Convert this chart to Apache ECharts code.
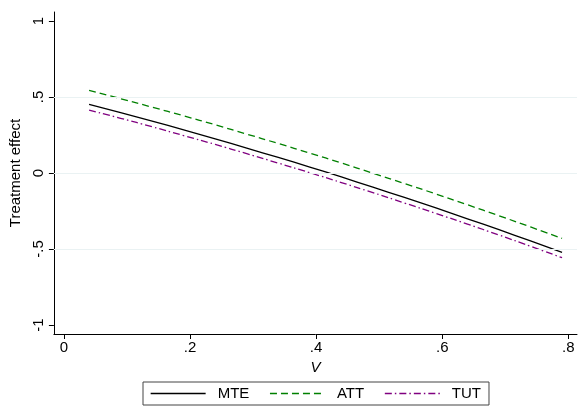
<!DOCTYPE html>
<html>
<head>
<meta charset="utf-8">
<script src="https://cdn.jsdelivr.net/npm/echarts@6/dist/echarts.min.js"></script>
<style>
  html, body { margin: 0; padding: 0; background: #ffffff; }
  #chart { width: 580px; height: 411px; }
</style>
</head>
<body>
<div id="chart"></div>
<script>
// Unobserved resistance V and the three treatment-effect curves
const vValues = [0.04, 0.09, 0.14, 0.19, 0.24, 0.29, 0.34, 0.39, 0.44, 0.49, 0.54, 0.59, 0.64, 0.69, 0.74, 0.79];
const mteValues = [0.452, 0.397, 0.341, 0.284, 0.225, 0.164, 0.102, 0.039, -0.026, -0.093, -0.161, -0.230, -0.301, -0.373, -0.447, -0.522];
const attValues = [0.544, 0.489, 0.433, 0.376, 0.317, 0.256, 0.194, 0.131, 0.066, -0.001, -0.069, -0.138, -0.209, -0.281, -0.355, -0.430];
const tutValues = [0.414, 0.360, 0.304, 0.246, 0.188, 0.127, 0.065, 0.002, -0.063, -0.129, -0.197, -0.266, -0.336, -0.408, -0.482, -0.557];

const seriesNames = ['MTE', 'ATT', 'TUT'];
const seriesColors = ['#000000', '#008000', '#800080'];
const seriesDashes = ['solid', [7, 4], [7, 3, 1.5, 3]];
const xTicks = [0, 0.2, 0.4, 0.6, 0.8];
const yTicks = [-1, -0.5, 0, 0.5, 1];
const yGridValues = [-0.5, 0, 0.5];

// Stata-style number labels: drop the leading zero
function stataLabel(v) {
  if (v === 0) return '0';
  const s = String(Math.round(v * 100) / 100);
  return s.replace(/^(-?)0\./, '$1.');
}

function pairs(ys) {
  return vValues.map((v, i) => [v, ys[i]]);
}

const font = 'Liberation Sans, Arial, sans-serif';
const fs = 15;
const chart = echarts.init(document.getElementById('chart'), null, { renderer: 'canvas' });

const curveData = [mteValues, attValues, tutValues];
const curves = seriesNames.map((name, i) => ({
  name: name,
  type: 'line',
  data: pairs(curveData[i]),
  z: 3,
  showSymbol: false,
  symbol: 'none',
  smooth: true,
  lineStyle: { color: seriesColors[i], width: 1.3, type: seriesDashes[i] },
  itemStyle: { color: seriesColors[i] }
}));

chart.setOption({
  backgroundColor: '#ffffff',
  animation: false,
  grid: { left: 52, right: 3, top: 12, bottom: 77 },
  xAxis: {
    type: 'value',
    min: -0.0158,
    max: 0.8137,
    name: 'V',
    nameLocation: 'middle',
    nameGap: 22,
    nameTextStyle: { fontFamily: font, fontSize: fs, fontStyle: 'italic', color: '#000' },
    axisLine: { show: true, onZero: false, lineStyle: { color: '#000', width: 1 } },
    axisTick: { show: true, length: 5, lineStyle: { color: '#000' }, customValues: xTicks },
    axisLabel: {
      margin: 6, color: '#000', fontFamily: font, fontSize: fs,
      customValues: xTicks, formatter: stataLabel
    },
    splitLine: { show: false }
  },
  yAxis: {
    type: 'value',
    min: -1.059,
    max: 1.059,
    name: 'Treatment effect',
    nameLocation: 'middle',
    nameGap: 25,
    nameTextStyle: { fontFamily: font, fontSize: fs, color: '#000' },
    axisLine: { show: true, onZero: false, lineStyle: { color: '#000', width: 1 } },
    axisTick: { show: true, length: 5, lineStyle: { color: '#000' }, customValues: yTicks },
    axisLabel: {
      margin: 8, rotate: 90, color: '#000', fontFamily: font, fontSize: fs,
      customValues: yTicks, formatter: stataLabel
    },
    splitLine: { show: false }
  },
  legend: {
    data: seriesNames.map((name, i) => ({
      name: name,
      lineStyle: { color: seriesColors[i], type: seriesDashes[i], width: 1.3 }
    })),
    left: 143,
    top: 382,
    orient: 'horizontal',
    itemWidth: 55,
    itemHeight: 13,
    itemGap: 20,
    padding: [4, 8, 4, 7],
    borderColor: '#444',
    borderWidth: 1,
    itemStyle: { color: 'rgba(0,0,0,0)', borderWidth: 0 },
    textStyle: { fontFamily: font, fontSize: fs, color: '#000', padding: [0, 0, 0, 7] }
  },
  series: [
    {
      // horizontal reference lines at the interior y ticks
      name: 'grid',
      type: 'line',
      data: [],
      z: 1,
      silent: true,
      markLine: {
        silent: true,
        symbol: 'none',
        label: { show: false },
        lineStyle: { color: '#EAF2F3', width: 1.2, type: 'solid' },
        data: yGridValues.map(v => ({ yAxis: v }))
      }
    }
  ].concat(curves)
});
</script>
</body>
</html>
